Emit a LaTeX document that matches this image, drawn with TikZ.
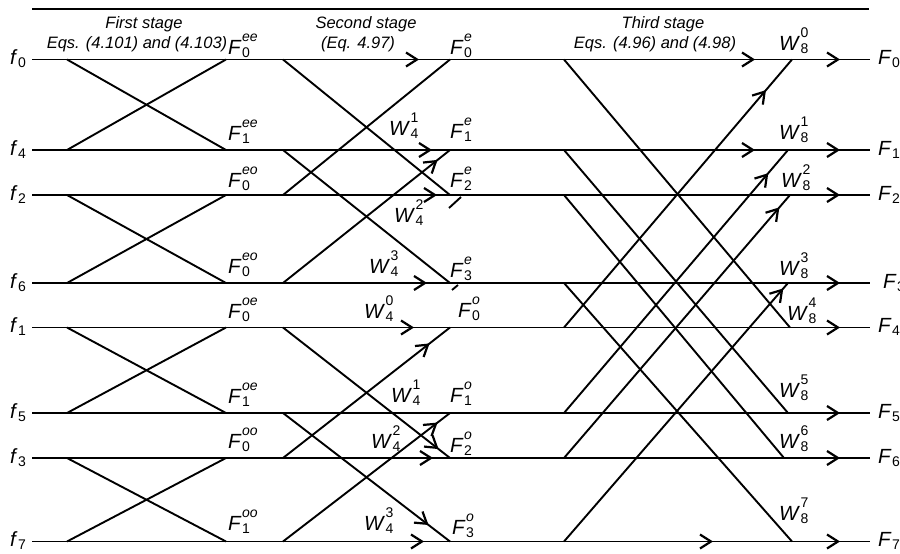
\documentclass[tikz,border=0pt]{standalone}
\usepackage{fontspec}
\setmainfont{Liberation Sans}
\usetikzlibrary{decorations.markings}
\newcommand{\subsz}{\fontsize{14}{14}\selectfont}
\newcommand{\lb}[3]{\textit{#1}\kern0.4pt\rlap{\raisebox{-3pt}{\subsz #2}}\raisebox{12.5pt}{\subsz #3}}
\newcommand{\ls}[2]{\textit{#1}\kern0.4pt\raisebox{-3pt}{\subsz #2}}
\newcommand{\chev}{\draw[line width=2.2pt,line cap=butt,line join=miter] (-11pt,-7pt) -- (0pt,0pt) -- (-11pt,7pt);}
\tikzset{
  wire/.style={line width=1.9pt, line cap=butt},
  lbl/.style={inner sep=0pt, anchor=base west, font=\fontsize{20.5}{20.5}\selectfont},
  hdr/.style={inner sep=0pt, anchor=base, font=\fontsize{16.5}{16.5}\selectfont\itshape},
  arrowsat/.style={postaction={decorate,decoration={markings,#1}}}
}
\begin{document}
\begin{tikzpicture}[x=1pt,y=-1pt]
\useasboundingbox (0,0) rectangle (900,554);
\foreach \i/\y/\g in {0/59.5/792,1/150/788,2/195/790,3/283/788,4/327.5/790,5/413/788,6/458/784,7/541.5/792}{
  \coordinate (in\i) at (32,\y);
  \coordinate (out\i) at (870,\y);
  \coordinate (a\i) at (67,\y);
  \coordinate (b\i) at (226,\y);
  \coordinate (c\i) at (283,\y);
  \coordinate (d\i) at (450,\y);
  \coordinate (e\i) at (564,\y);
  \coordinate (g\i) at (\g,\y);
}
\coordinate (topL) at (32,9);
\coordinate (topR) at (869,9);
\draw[wire] (topL) -- (topR);

% horizontal lines
\draw[wire,arrowsat={mark=at position 385pt with {\chev},mark=at position 721pt with {\chev},mark=at position 806pt with {\chev}}] (in0) -- (out0);
\draw[wire,arrowsat={mark=at position 398pt with {\chev},mark=at position 721pt with {\chev},mark=at position 806pt with {\chev}}] (in1) -- (out1);
\draw[wire,arrowsat={mark=at position 403pt with {\chev},mark=at position 806pt with {\chev}}] (in2) -- (out2);
\draw[wire,arrowsat={mark=at position 393pt with {\chev},mark=at position 806pt with {\chev}}] (in3) -- (out3);
\draw[wire,arrowsat={mark=at position 380pt with {\chev},mark=at position 806pt with {\chev}}] (in4) -- (out4);
\draw[wire,arrowsat={mark=at position 806pt with {\chev}}] (in5) -- (out5);
\draw[wire,arrowsat={mark=at position 399pt with {\chev},mark=at position 806pt with {\chev}}] (in6) -- (out6);
\draw[wire,arrowsat={mark=at position 390pt with {\chev},mark=at position 679pt with {\chev},mark=at position 806pt with {\chev}}] (in7) -- (out7);

% first stage
\foreach \p/\q in {0/1,2/3,4/5,6/7}{
  \draw[wire] (a\p) -- (b\q);
  \draw[wire] (a\q) -- (b\p);
}
% second stage
\draw[wire] (c0) -- (d2);
\draw[wire] (c2) -- (d0);
\draw[wire] (c1) -- (d3);
\draw[wire,arrowsat={mark=at position 0.916 with {\chev}}] (c3) -- (d1);
\draw[wire,arrowsat={mark=at position 0.922 with {\chev}}] (c4) -- (d6);
\draw[wire,arrowsat={mark=at position 0.868 with {\chev}}] (c6) -- (d4);
\draw[wire,arrowsat={mark=at position 0.862 with {\chev}}] (c5) -- (d7);
\draw[wire,arrowsat={mark=at position 0.916 with {\chev}}] (c7) -- (d5);
% third stage
\draw[wire] (e0) -- (g4);
\draw[wire] (e1) -- (g5);
\draw[wire] (e2) -- (g6);
\draw[wire] (e3) -- (g7);
\draw[wire,arrowsat={mark=at position 0.88 with {\chev}}] (e4) -- (g0);
\draw[wire,arrowsat={mark=at position 0.906 with {\chev}}] (e5) -- (g1);
\draw[wire,arrowsat={mark=at position 0.947 with {\chev}}] (e6) -- (g2);
\draw[wire,arrowsat={mark=at position 0.973 with {\chev}}] (e7) -- (g3);
% small ticks
\coordinate (t1a) at (449,208);
\coordinate (t1b) at (461,197);
\coordinate (t2a) at (452,290);
\coordinate (t2b) at (458,285);
\draw[wire] (t1a) -- (t1b);
\draw[wire] (t2a) -- (t2b);

% headers
\node[hdr] (h1) at (144,28) {First stage};
\node[hdr] (h2) at (137,48) {Eqs. (4.101) and (4.103)};
\node[hdr] (h3) at (366,28) {Second stage};
\node[hdr] (h4) at (358,48) {(Eq. 4.97)};
\node[hdr] (h5) at (663,28) {Third stage};
\node[hdr] (h6) at (655,48) {Eqs. (4.96) and (4.98)};

% inputs
\node[lbl] (i0) at (10,64.5) {\ls{f}{0}};
\node[lbl] (i1) at (10,155) {\ls{f}{4}};
\node[lbl] (i2) at (10,200) {\ls{f}{2}};
\node[lbl] (i3) at (10,288) {\ls{f}{6}};
\node[lbl] (i4) at (10,332.5) {\ls{f}{1}};
\node[lbl] (i5) at (10,418) {\ls{f}{5}};
\node[lbl] (i6) at (10,463) {\ls{f}{3}};
\node[lbl] (i7) at (10,546.5) {\ls{f}{7}};

% outputs
\node[lbl] (o0) at (878,64.5) {\ls{F}{0}};
\node[lbl] (o1) at (878,155) {\ls{F}{1}};
\node[lbl] (o2) at (878,200) {\ls{F}{2}};
\node[lbl] (o3) at (883,288) {\ls{F}{3}};
\node[lbl] (o4) at (878,332.5) {\ls{F}{4}};
\node[lbl] (o5) at (878,418) {\ls{F}{5}};
\node[lbl] (o6) at (878,463) {\ls{F}{6}};
\node[lbl] (o7) at (878,546.5) {\ls{F}{7}};

% first stage labels
\node[lbl] (p0) at (228,54) {\lb{F}{0}{\textit{ee}}};
\node[lbl] (p1) at (228,140) {\lb{F}{1}{\textit{ee}}};
\node[lbl] (p2) at (228,187) {\lb{F}{0}{\textit{eo}}};
\node[lbl] (p3) at (228,273) {\lb{F}{0}{\textit{eo}}};
\node[lbl] (p4) at (228,318) {\lb{F}{0}{\textit{oe}}};
\node[lbl] (p5) at (228,403) {\lb{F}{1}{\textit{oe}}};
\node[lbl] (p6) at (228,448) {\lb{F}{0}{\textit{oo}}};
\node[lbl] (p7) at (228,530) {\lb{F}{1}{\textit{oo}}};

% second stage labels
\node[lbl] (q0) at (450,54) {\lb{F}{0}{\textit{e}}};
\node[lbl] (q1) at (450,138) {\lb{F}{1}{\textit{e}}};
\node[lbl] (q2) at (450,187) {\lb{F}{2}{\textit{e}}};
\node[lbl] (q3) at (450,277) {\lb{F}{3}{\textit{e}}};
\node[lbl] (q4) at (458,317) {\lb{F}{0}{\textit{o}}};
\node[lbl] (q5) at (450,402) {\lb{F}{1}{\textit{o}}};
\node[lbl] (q6) at (450,452) {\lb{F}{2}{\textit{o}}};
\node[lbl] (q7) at (452,534) {\lb{F}{3}{\textit{o}}};

% W4 labels
\node[lbl] (w1) at (389,135) {\lb{W}{4}{1}};
\node[lbl] (w2) at (394,222) {\lb{W}{4}{2}};
\node[lbl] (w3) at (369,273) {\lb{W}{4}{3}};
\node[lbl] (w0) at (364,318) {\lb{W}{4}{0}};
\node[lbl] (w5) at (391,402) {\lb{W}{4}{1}};
\node[lbl] (w6) at (371,448) {\lb{W}{4}{2}};
\node[lbl] (w7) at (364,530) {\lb{W}{4}{3}};

% W8 labels
\node[lbl] (v0) at (779,50) {\lb{W}{8}{0}};
\node[lbl] (v1) at (779,139) {\lb{W}{8}{1}};
\node[lbl] (v2) at (781,187) {\lb{W}{8}{2}};
\node[lbl] (v3) at (779,275) {\lb{W}{8}{3}};
\node[lbl] (v4) at (787,320) {\lb{W}{8}{4}};
\node[lbl] (v5) at (779,397) {\lb{W}{8}{5}};
\node[lbl] (v6) at (779,448) {\lb{W}{8}{6}};
\node[lbl] (v7) at (779,520) {\lb{W}{8}{7}};
\end{tikzpicture}
\end{document}
